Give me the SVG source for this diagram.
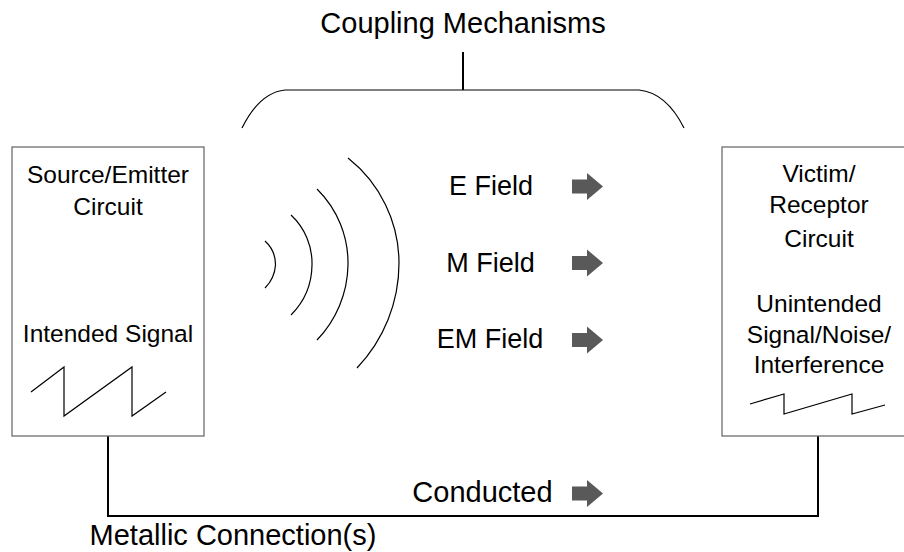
<svg xmlns="http://www.w3.org/2000/svg" width="904" height="552" viewBox="0 0 904 552">
<defs>
<style>
text{font-family:"Liberation Sans",Arial,sans-serif;fill:#000;text-anchor:middle}
.box{fill:#fff;stroke:#6e6e6e;stroke-width:1.3}
.t24{font-size:24.5px}
.t27{font-size:27px}
.t29{font-size:29px}
.thin{fill:none;stroke:#000;stroke-width:1.2}
.wire{fill:none;stroke:#000;stroke-width:2}
.arr{fill:#595959}
</style>
<polygon id="blk" points="0,-7 15,-7 15,-13.5 31,0 15,13.5 15,7 0,7"/>
</defs>
<rect width="904" height="552" fill="#fff"/>

<g id="connectors">
<path class="wire" d="M108,436 V516 H818 V436"/>
<path class="wire" d="M463,52 V90"/>
<path class="thin" d="M242,128 C252,108 265,92 285,90 H639 C659,92 674,108 684,128"/>
</g>

<g id="title"><text class="t29" x="463" y="33">Coupling Mechanisms</text></g>

<g id="source">
<rect class="box" x="12" y="147" width="192" height="289"/>
<text class="t24" x="108" y="183">Source/Emitter</text>
<text class="t24" x="108" y="215">Circuit</text>
<text class="t24" x="108" y="342">Intended Signal</text>
<polyline class="thin" points="31,392 64,367 64,416 132,367 132,416 166,392"/>
</g>

<g id="victim">
<rect class="box" x="722" y="147" width="200" height="289"/>
<text class="t24" x="819" y="182">Victim/</text>
<text class="t24" x="819" y="213">Receptor</text>
<text class="t24" x="819" y="247">Circuit</text>
<text class="t24" x="819" y="312">Unintended</text>
<text class="t24" x="819" y="343">Signal/Noise/</text>
<text class="t24" x="819" y="373">Interference</text>
<polyline class="thin" points="750,404 784,394 784,414 852,394 852,414 885,405"/>
</g>

<g id="waves">
<path class="thin" d="M265,241 A32,32 0 0 1 275.5,265 A36,36 0 0 1 265,288"/>
<path class="thin" d="M291,215 A66,66 0 0 1 312,265 A72,72 0 0 1 291,315"/>
<path class="thin" d="M317,189 A104,104 0 0 1 348,265 A111,111 0 0 1 317,340"/>
<path class="thin" d="M348,158 A134,134 0 0 1 399,263 A152,152 0 0 1 357,368"/>
</g>

<g id="efield">
<text class="t27" x="491" y="195">E Field</text>
<use href="#blk" class="arr" x="572" y="186.5"/>
</g>
<g id="mfield">
<text class="t27" x="490.5" y="272">M Field</text>
<use href="#blk" class="arr" x="572" y="263"/>
</g>
<g id="emfield">
<text class="t27" x="490" y="348">EM Field</text>
<use href="#blk" class="arr" x="572" y="340"/>
</g>
<g id="conducted">
<text class="t29" x="482.5" y="502">Conducted</text>
<use href="#blk" class="arr" x="572" y="493.5"/>
</g>
<g id="metallic"><text class="t29" x="233" y="545">Metallic Connection(s)</text></g>
</svg>
